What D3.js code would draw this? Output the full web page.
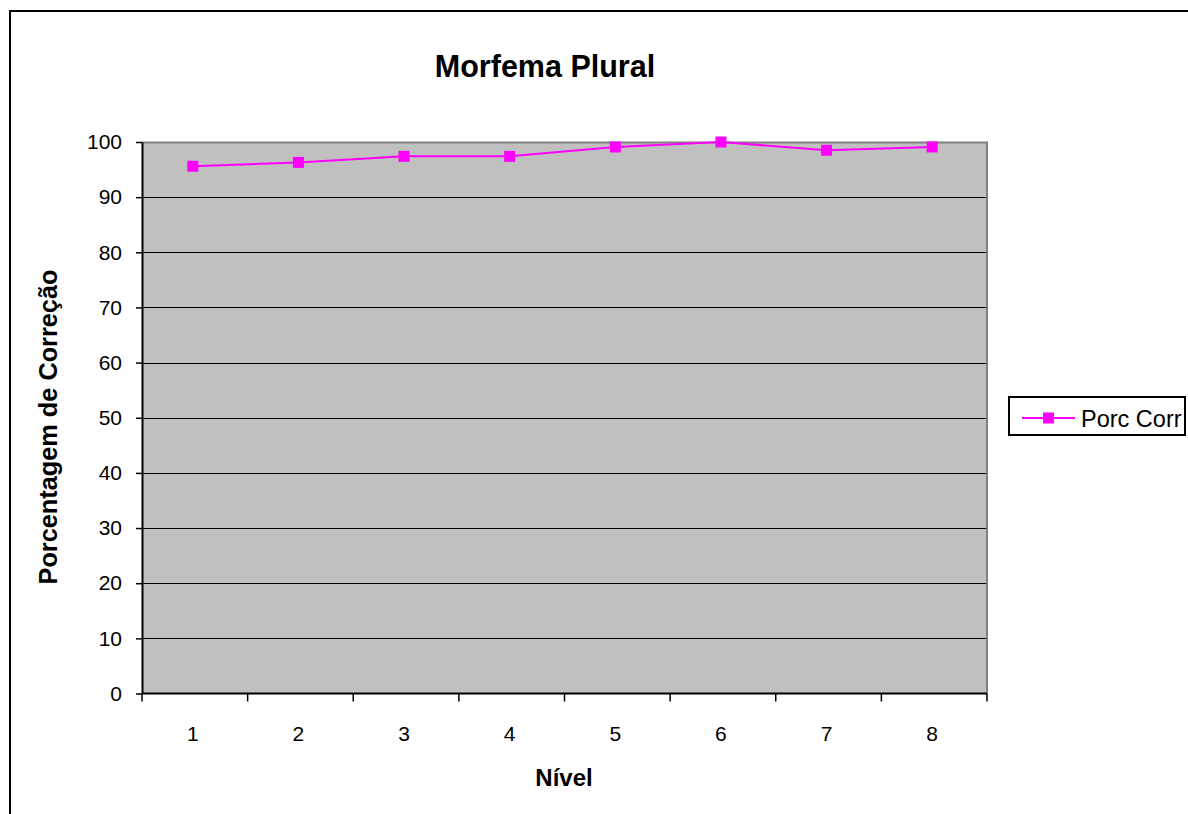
<!DOCTYPE html>
<html>
<head>
<meta charset="utf-8">
<script src="https://cdn.jsdelivr.net/npm/d3@7"></script>
<style>
  body { margin: 0; background: #fff; }
  svg { display: block; font-family: "Liberation Sans", Arial, sans-serif; }
</style>
</head>
<body>
<svg id="chart"></svg>
<script>
// chart data
const niveis = ["1", "2", "3", "4", "5", "6", "7", "8"];
const porcCorr = [95.6, 96.3, 97.4, 97.4, 99.1, 100, 98.5, 99.1];
const yTicks = [0, 10, 20, 30, 40, 50, 60, 70, 80, 90, 100];

const config = {
    width: 1188,
    height: 814,
    margin: {top: 142, right: 201, bottom: 120, left: 142}
};

const svg = d3.select('#chart')
    .attr('width', config.width)
    .attr('height', config.height);

// outer chart frame (runs off the right / bottom edge like the original)
svg.append('rect')
    .attr('x', 10).attr('y', 11)
    .attr('width', 1300).attr('height', 1000)
    .attr('fill', 'none')
    .attr('stroke', '#000')
    .attr('stroke-width', 2);

const width = config.width - config.margin.left - config.margin.right;
const height = config.height - config.margin.top - config.margin.bottom - 0.5;

const chart = svg.append('g')
    .attr('transform', `translate(${config.margin.left},${config.margin.top})`);

const xScale = d3.scaleBand()
    .domain(niveis)
    .range([0, width])
    .padding(0);

const yScale = d3.scaleLinear()
    .domain([0, 100])
    .range([height, 0]);

// plot background
chart.append('rect')
    .attr('width', width)
    .attr('height', height)
    .attr('fill', '#c0c0c0');

// horizontal gridlines
chart.append('g')
    .selectAll('line')
    .data(yTicks.filter(d => d > 0 && d < 100))
    .join('line')
    .attr('x1', 0).attr('x2', width)
    .attr('y1', d => Math.round(yScale(d)) + 0.5)
    .attr('y2', d => Math.round(yScale(d)) + 0.5)
    .attr('stroke', '#000')
    .attr('stroke-width', 1);

// gray frame on top and right
chart.append('path')
    .attr('d', `M0,0.5H${width}V${height}`)
    .attr('fill', 'none')
    .attr('stroke', '#808080')
    .attr('stroke-width', 2);

// y axis
const yAxis = d3.axisLeft(yScale)
    .tickValues(yTicks)
    .tickSize(6)
    .tickPadding(14)
    .tickSizeOuter(0);

const yAxisG = chart.append('g').call(yAxis);
yAxisG.select('.domain').attr('stroke', '#000').attr('stroke-width', 2);
yAxisG.selectAll('.tick line').attr('stroke', '#000').attr('stroke-width', 1.5);
yAxisG.selectAll('.tick text')
    .attr('fill', '#000')
    .style('font-size', '21px')
    .style('font-family', '"Liberation Sans", Arial, sans-serif');

// x axis: ticks on band boundaries, labels at band centres
const xAxisG = chart.append('g').attr('transform', `translate(0,${height})`);
xAxisG.append('line')
    .attr('x1', 0).attr('x2', width)
    .attr('stroke', '#000').attr('stroke-width', 2);
xAxisG.selectAll('line.tick')
    .data(niveis.map(d => xScale(d)).concat([width]))
    .join('line')
    .attr('class', 'tick')
    .attr('x1', d => d).attr('x2', d => d)
    .attr('y1', 0).attr('y2', 8)
    .attr('stroke', '#000').attr('stroke-width', 1.5);
xAxisG.selectAll('text')
    .data(niveis)
    .join('text')
    .attr('x', d => xScale(d) + xScale.bandwidth() / 2 - 2)
    .attr('y', 47)
    .attr('text-anchor', 'middle')
    .style('font-size', '21px')
    .text(d => d);

// line series
const line = d3.line()
    .x((d, i) => xScale(niveis[i]) + xScale.bandwidth() / 2 - 2)
    .y(d => yScale(d));

chart.append('path')
    .datum(porcCorr)
    .attr('d', line)
    .attr('fill', 'none')
    .attr('stroke', '#ff00ff')
    .attr('stroke-width', 2);

chart.selectAll('rect.marker')
    .data(porcCorr)
    .join('rect')
    .attr('class', 'marker')
    .attr('x', (d, i) => xScale(niveis[i]) + xScale.bandwidth() / 2 - 2 - 5.5)
    .attr('y', d => yScale(d) - 5.5)
    .attr('width', 11).attr('height', 11)
    .attr('fill', '#ff00ff');

// title
svg.append('text')
    .attr('x', 545)
    .attr('y', 77)
    .attr('text-anchor', 'middle')
    .style('font-size', '30.5px')
    .style('font-weight', '700')
    .text('Morfema Plural');

// y label
svg.append('text')
    .attr('transform', 'rotate(-90)')
    .attr('x', -427)
    .attr('y', 57)
    .attr('text-anchor', 'middle')
    .style('font-size', '25.3px')
    .style('font-weight', '700')
    .text('Porcentagem de Correção');

// x label
svg.append('text')
    .attr('x', 564)
    .attr('y', 786)
    .attr('text-anchor', 'middle')
    .style('font-size', '24px')
    .style('font-weight', '700')
    .text('Nível');

// legend
const legend = svg.append('g').attr('transform', 'translate(1009,397)');
legend.append('rect')
    .attr('width', 176).attr('height', 38)
    .attr('fill', '#fff')
    .attr('stroke', '#000')
    .attr('stroke-width', 2);
legend.append('line')
    .attr('x1', 13).attr('x2', 66)
    .attr('y1', 21).attr('y2', 21)
    .attr('stroke', '#ff00ff').attr('stroke-width', 2);
legend.append('rect')
    .attr('x', 34).attr('y', 15.5)
    .attr('width', 11).attr('height', 11)
    .attr('fill', '#ff00ff');
legend.append('text')
    .attr('x', 72)
    .attr('y', 29.5)
    .style('font-size', '23.5px')
    .text('Porc Corr');
</script>
</body>
</html>
